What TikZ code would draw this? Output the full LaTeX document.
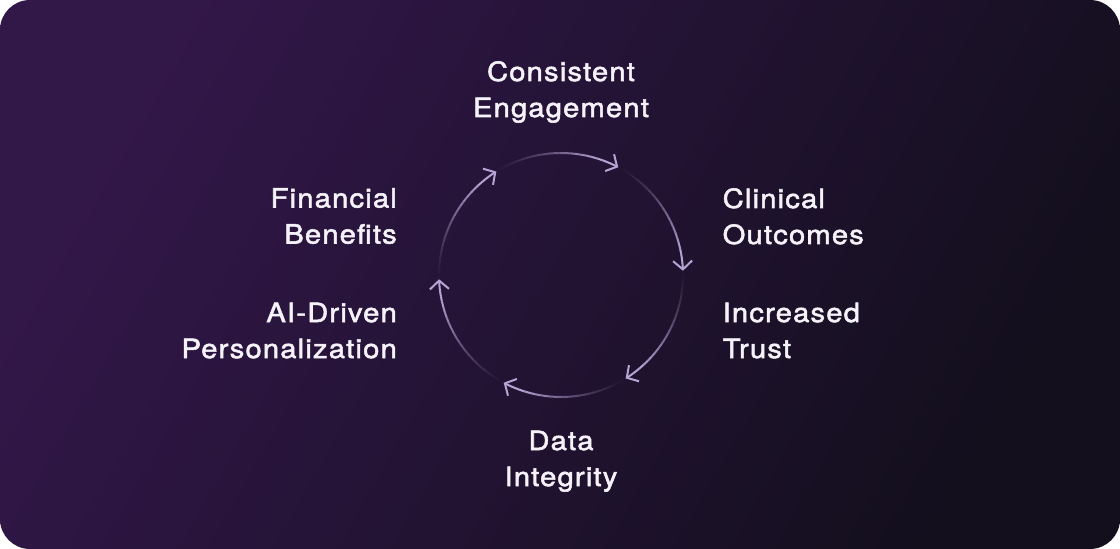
\documentclass[tikz,border=0pt]{standalone}
\usepackage{fontspec}
\setmainfont{TeX Gyre Heros}[FakeStretch=1.1,LetterSpace=4.5,FakeBold=2]
\usetikzlibrary{arrows.meta}
\definecolor{bgA}{HTML}{321749}
\definecolor{bgM}{HTML}{1F1233}
\definecolor{bgB}{HTML}{130F1D}
\definecolor{ring}{HTML}{B8A4D4}
\definecolor{txt}{HTML}{F5F2F9}
\begin{document}
\begin{tikzpicture}[x=1pt,y=1pt,
  lbl/.style={text=txt, font=\fontsize{26.5}{36}\selectfont, inner sep=0pt},
  ringline/.style={draw=ring, line width=2pt},
  tip/.style={-{Straight Barb[length=8.5pt,width=19pt]}}]
\useasboundingbox (0,0) rectangle (1120,549);
\shade[rounded corners=30pt, top color=bgA, middle color=bgM, bottom color=bgB, shading angle=60] (0,0) rectangle (1120,549);
\coordinate (C) at (561,274);
\foreach \e in {2,62,122,182,242,302}{
  \foreach \j in {0,...,19}{
    \pgfmathsetmacro\sa{\e+60-\j*2.6}
    \pgfmathsetmacro\ea{\e+60-(\j+1)*2.6}
    \pgfmathsetmacro\op{((\j+1)/20)^1.4}
    \draw[ringline, opacity=\op] (C) ++(\sa:122) arc[start angle=\sa, end angle=\ea, radius=122];
  }
  \draw[ringline, tip] (C) ++(\e+8:122) arc[start angle=\e+8, end angle=\e, radius=122];
}
\node[lbl, align=center, anchor=north] (ce) at (561,488) {Consistent\\Engagement};
\node[lbl, align=left, anchor=north west] (co) at (722.5,361) {Clinical\\Outcomes};
\node[lbl, align=left, anchor=north west] (it) at (722.5,246.5) {Increased\\Trust};
\node[lbl, align=center, anchor=north] (di) at (561,118.5) {Data\\Integrity};
\node[lbl, align=right, anchor=north east] (ap) at (397,246.5) {AI-Driven\\Personalization};
\node[lbl, align=right, anchor=north east] (fb) at (397,361) {Financial\\Benefits};
\end{tikzpicture}
\end{document}
